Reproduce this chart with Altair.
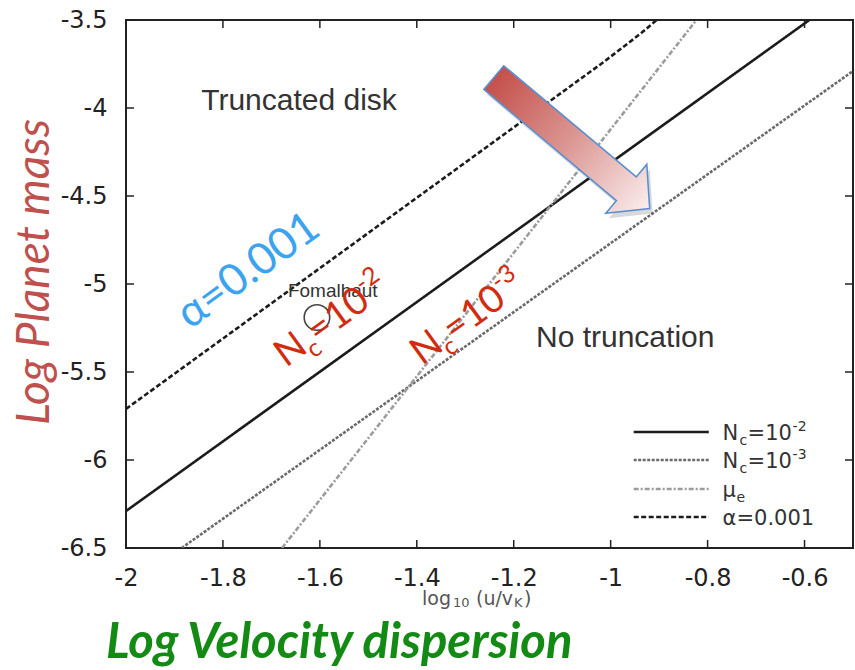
import altair as alt
import pandas as pd

# ---------------- data ----------------
series_keys = ["nc2", "nc3", "mue", "alpha"]

nc2_x = [-2.0, -0.59]
nc2_y = [-6.29, -3.5]
nc3_x = [-1.885, -0.5]
nc3_y = [-6.5, -3.79]
mue_x = [-1.678, -0.823]
mue_y = [-6.5, -3.5]
alpha_x = [-2.0, -1.4, -1.1, -1.02, -0.97, -0.935, -0.905]
alpha_y = [-5.71, -4.51, -3.91, -3.75, -3.645, -3.57, -3.5]

x_ticks = [-2, -1.8, -1.6, -1.4, -1.2, -1, -0.8, -0.6]
y_ticks = [-3.5, -4, -4.5, -5, -5.5, -6, -6.5]

fomalhaut_x = [-1.606]
fomalhaut_y = [-5.19]
fomalhaut_label = ["Fomalhaut"]

region_labels = ["Truncated disk", "No truncation"]
region_x = [-1.643, -0.970]
region_y = [-4.011, -5.358]

legend_texts = [["N", "c", "=10", "-2"], ["N", "c", "=10", "-3"], ["μ", "e"], ["α=0.001"]]
legend_y = [-5.841, -6.0, -6.165, -6.324]

nc2_note = ["N", "c", "=10", "-2"]
nc3_note = ["N", "c", "=10", "-3"]
alpha_note = ["α=0.001"]
xlabel_parts = ["log", "10", "(u/v", "K", ")"]
xtitle = "Log Velocity dispersion"
ytitle = "Log Planet mass"

# ---------------- styles / layout ----------------
W, H = 727, 528
PAD_L, PAD_T = 126, 20
X_DOM = [-2.0, -0.5]
Y_DOM = [-6.5, -3.5]

line_colors = ["#1c1c1c", "#6a6a6a", "#9c9c9c", "#1c1c1c"]
line_dashes = [[1, 0], [3, 1.5], [5, 2, 2, 2], [5, 2.5]]
line_widths = [2.6, 2.6, 2.0, 2.0]

xs = alt.Scale(domain=X_DOM, nice=False, zero=False)
ys = alt.Scale(domain=Y_DOM, nice=False, zero=False)
col_s = alt.Scale(domain=series_keys, range=line_colors)
dash_s = alt.Scale(domain=series_keys, range=line_dashes)
wid_s = alt.Scale(domain=series_keys, range=line_widths)

rows = []
for k, xx, yy in zip(series_keys, [nc2_x, nc3_x, mue_x, alpha_x], [nc2_y, nc3_y, mue_y, alpha_y]):
    for a, b in zip(xx, yy):
        rows.append({"s": k, "x": a, "y": b})
lines_df = pd.DataFrame(rows)

lines = alt.Chart(lines_df).mark_line(clip=True).encode(
    x=alt.X("x:Q", scale=xs, axis=alt.Axis(values=x_ticks, labelExpr="'' + datum.value", title=None,
                                          labelPadding=18, labelFontSize=24)),
    y=alt.Y("y:Q", scale=ys, axis=alt.Axis(values=y_ticks, labelExpr="'' + datum.value", title=None,
                                          labelPadding=19, labelFontSize=24)),
    color=alt.Color("s:N", scale=col_s, legend=None),
    strokeDash=alt.StrokeDash("s:N", scale=dash_s, legend=None),
    strokeWidth=alt.StrokeWidth("s:N", scale=wid_s, legend=None),
    detail="s:N",
)

# inward mirror ticks
xt_df = pd.DataFrame({"v": x_ticks})
yt_df = pd.DataFrame({"v": y_ticks})
TL = 8
tick_layers = [
    alt.Chart(xt_df).mark_rule(color="#222", strokeWidth=1.5).encode(x=alt.X("v:Q", scale=xs), y=alt.value(H), y2=alt.value(H - TL)),
    alt.Chart(xt_df).mark_rule(color="#222", strokeWidth=1.5).encode(x=alt.X("v:Q", scale=xs), y=alt.value(0), y2=alt.value(TL)),
    alt.Chart(yt_df).mark_rule(color="#222", strokeWidth=1.5).encode(y=alt.Y("v:Q", scale=ys), x=alt.value(0), x2=alt.value(TL)),
    alt.Chart(yt_df).mark_rule(color="#222", strokeWidth=1.5).encode(y=alt.Y("v:Q", scale=ys), x=alt.value(W), x2=alt.value(W - TL)),
]

# region labels
region_df = pd.DataFrame({"t": region_labels, "x": region_x, "y": region_y})
regions = alt.Chart(region_df).mark_text(font="Liberation Sans", fontSize=30, color="#333",
                                         align="center", baseline="alphabetic").encode(
    x=alt.X("x:Q", scale=xs), y=alt.Y("y:Q", scale=ys), text="t:N")

# Fomalhaut
fom_df = pd.DataFrame({"x": fomalhaut_x, "y": fomalhaut_y, "t": fomalhaut_label})
fom_pt = alt.Chart(fom_df).mark_point(shape="circle", size=650, filled=False, color="#444",
                                      strokeWidth=1.6, opacity=1).encode(
    x=alt.X("x:Q", scale=xs), y=alt.Y("y:Q", scale=ys))
FOM_LABEL_POS = (-1.666, -5.074)
fom_txt = alt.Chart(pd.DataFrame({"x": [FOM_LABEL_POS[0]], "y": [FOM_LABEL_POS[1]], "t": fomalhaut_label})).mark_text(
    font="Liberation Sans", fontSize=19, color="#333", align="left", baseline="alphabetic").encode(
    x=alt.X("x:Q", scale=xs), y=alt.Y("y:Q", scale=ys), text="t:N")

# arrow (custom symbol)
ARROW_POS = (-1.0803, -4.199)
arrow_path = "M-1,-0.152 L0.70,-0.152 L0.70,-0.313 L1,0 L0.70,0.313 L0.70,0.152 L-1,0.152 Z"
arrow_df = pd.DataFrame({"x": [ARROW_POS[0]], "y": [ARROW_POS[1]]})
grad = alt.LinearGradient(gradient="linear",
                          stops=[alt.GradientStop(offset=0, color="#c4504b"),
                                 alt.GradientStop(offset=0.5, color="#dc9894"),
                                 alt.GradientStop(offset=1, color="#faeeee")],
                          x1=0, x2=1, y1=0, y2=0)
arrow_shadow = alt.Chart(arrow_df).mark_point(shape=arrow_path, size=203.5 ** 2, angle=40, filled=True,
                                              fill="#000", fillOpacity=0.15, strokeOpacity=0,
                                              xOffset=3, yOffset=5).encode(
    x=alt.X("x:Q", scale=xs), y=alt.Y("y:Q", scale=ys))
arrow = alt.Chart(arrow_df).mark_point(shape=arrow_path, size=203.5 ** 2, angle=40, filled=True,
                                       fill=grad, fillOpacity=1, stroke="#5b8fd0", strokeWidth=1.6,
                                       opacity=1).encode(
    x=alt.X("x:Q", scale=xs), y=alt.Y("y:Q", scale=ys))


def rich(parts, offsets, x, y, color, font, angle=0, style="normal", weight="normal", pixel=False):
    """parts: texts; offsets: (dx, dy, size) per part."""
    out = []
    for t, (dx, dy, sz) in zip(parts, offsets):
        m = alt.Chart(pd.DataFrame({"x": [x], "y": [y], "t": [t]})).mark_text(
            font=font, fontSize=sz, color=color, align="left", baseline="alphabetic",
            dx=dx, dy=dy, angle=angle, fontStyle=style, fontWeight=weight)
        if pixel:
            m = m.encode(x=alt.value(x), y=alt.value(y), text="t:N")
        else:
            m = m.encode(x=alt.X("x:Q", scale=xs), y=alt.Y("y:Q", scale=ys), text="t:N")
        out.append(m)
    return out


RED = "#d22c10"
ANG = 324
NOTE_OFF = [(0, 0, 38), (28, 9, 25), (40, 0, 38), (106, -16, 25)]
notes = []
notes += rich(nc2_note, NOTE_OFF, -1.6699, -5.477, RED, "Lato", angle=ANG)
notes += rich(nc3_note, NOTE_OFF, -1.3893, -5.466, RED, "Lato", angle=ANG)
notes += rich(alpha_note, [(0, 0, 44)], -1.868, -5.261, "#3ca3ee", "Lato", angle=ANG)

# manual legend
leg_df = pd.DataFrame({"s": series_keys, "x1": [-0.9525] * 4, "x2": [-0.7975] * 4, "y": legend_y})
leg_lines = alt.Chart(leg_df).mark_rule().encode(
    x=alt.X("x1:Q", scale=xs), x2="x2:Q", y=alt.Y("y:Q", scale=ys),
    color=alt.Color("s:N", scale=col_s, legend=None),
    strokeDash=alt.StrokeDash("s:N", scale=dash_s, legend=None),
    strokeWidth=alt.StrokeWidth("s:N", scale=wid_s, legend=None))
LEG_TX = -0.769
leg_offsets = [
    [(0, 8, 21), (17, 13, 14), (25, 8, 21), (70, -1, 14)],
    [(0, 8, 21), (17, 13, 14), (25, 8, 21), (70, -1, 14)],
    [(0, 8, 21), (14, 13, 14)],
    [(0, 8, 21)],
]
leg_txt = []
for parts, offs, yy in zip(legend_texts, leg_offsets, legend_y):
    leg_txt += rich(parts, offs, LEG_TX, yy, "#333", "DejaVu Sans")

# axis titles
xl = rich(xlabel_parts, [(0, 0, 19), (31, 2, 13), (54, 0, 19), (92, 2, 13), (102, 0, 19)],
          422 - PAD_L, 605 - PAD_T, "#555", "DejaVu Sans", pixel=True)
xt = rich([xtitle], [(0, 0, 49)], 106 - PAD_L, 658 - PAD_T, "#138a13", "Lato",
          style="italic", weight="bold", pixel=True)
yt = [alt.Chart(pd.DataFrame({"t": [ytitle]})).mark_text(
    font="Lato", fontSize=46, fontStyle="italic", color="#c0504d", align="center",
    baseline="alphabetic", angle=270).encode(x=alt.value(49 - PAD_L), y=alt.value(272 - PAD_T), text="t:N")]

chart = alt.layer(
    lines, *tick_layers, regions, fom_pt, fom_txt, arrow_shadow, arrow, *notes,
    leg_lines, *leg_txt, *xl, *xt, *yt
).properties(
    width=W, height=H,
    padding={"left": PAD_L, "top": PAD_T, "right": 855 - PAD_L - W, "bottom": 670 - PAD_T - H},
    autosize=alt.AutoSizeParams(type="none"),
    background="white",
).configure_view(
    stroke="#222", strokeWidth=2
).configure_axis(
    grid=False, ticks=False, domain=False, labelFont="DejaVu Sans", labelColor="#222",
    labelFlush=False, labelOverlap=False
)

chart.save("out.html", embed_options={"renderer": "svg", "actions": False})
